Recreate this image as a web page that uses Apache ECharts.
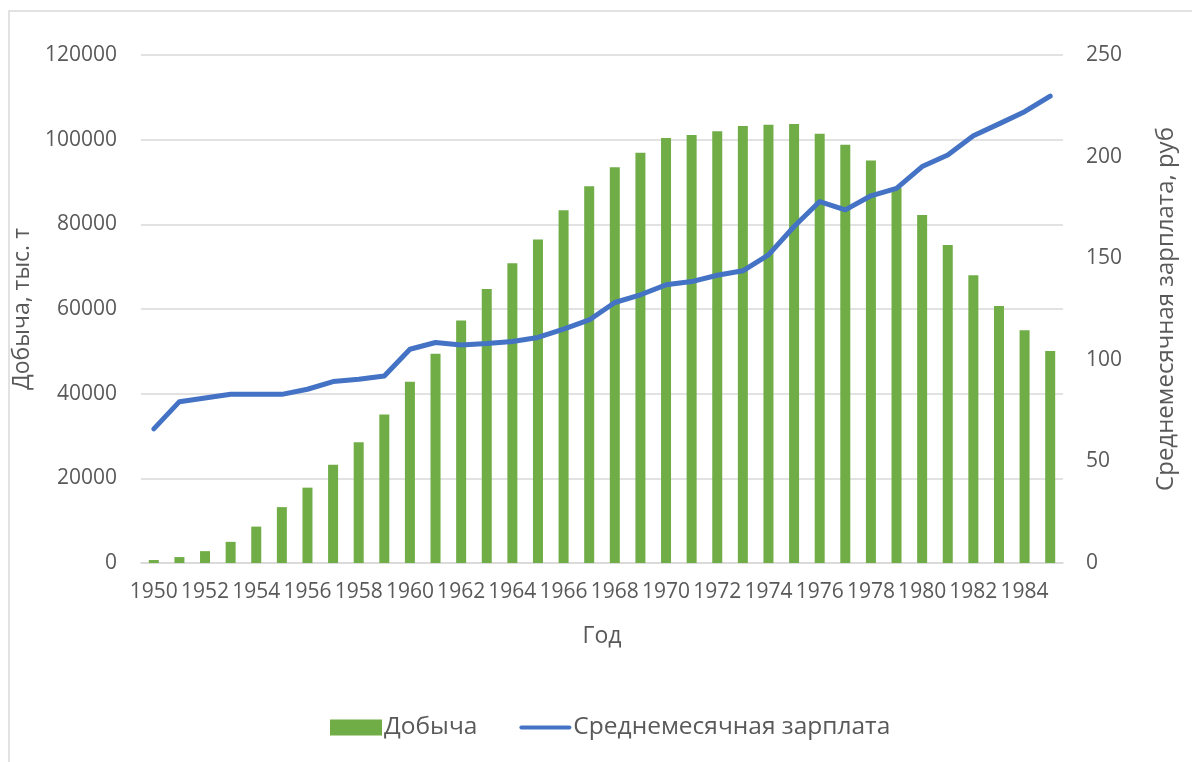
<!DOCTYPE html>
<html>
<head>
<meta charset="utf-8">
<script src="https://cdn.jsdelivr.net/npm/echarts@6/dist/echarts.min.js"></script>
<style>
html,body{margin:0;padding:0;background:#fff;}
#chart{width:1192px;height:762px;}
</style>
</head>
<body>
<div id="chart"></div>
<script>
const years = ['1950','1951','1952','1953','1954','1955','1956','1957','1958','1959',
  '1960','1961','1962','1963','1964','1965','1966','1967','1968','1969',
  '1970','1971','1972','1973','1974','1975','1976','1977','1978','1979',
  '1980','1981','1982','1983','1984','1985'];
const production = [700,1400,2800,5000,8600,13200,17800,23200,28500,35100,
  42800,49400,57300,64700,70800,76400,83300,89000,93500,96900,
  100400,101100,102000,103200,103500,103700,101400,98800,95100,88600,
  82200,75100,68000,60700,55000,50100];
const salary = [66,79.4,81.2,83,83,83,85.5,89.3,90.4,92,
  105.2,108.5,107.3,108,109,111,115.1,119.6,128.2,132,
  136.9,138.5,141.6,143.8,151.6,165.6,177.9,173.8,180.7,184.4,
  195.1,200.8,210.3,216.1,222.1,229.8];
const seriesNames = ['Добыча','Среднемесячная зарплата'];
const axisNames = ['Добыча, тыс. т','Среднемесячная зарплата, руб','Год'];

const FONT = 'Open Sans';
const TXT = '#595959';
const chart = echarts.init(document.getElementById('chart'));
chart.setOption({
  backgroundColor:'#fff',
  animation:false,
  textStyle:{fontFamily:FONT},
  graphic:[{type:'rect',shape:{x:9,y:11,width:1300,height:900},style:{fill:'none',stroke:'#D9D9D9',lineWidth:1.5},silent:true}],
  grid:{left:141,right:129,top:55,bottom:199},
  legend:{
    left:325, top:710,
    itemWidth:52, itemHeight:16, itemGap:42,
    textStyle:{fontFamily:FONT,fontSize:24.5,color:TXT,padding:[0,0,0,-3]},
    data:[{name:seriesNames[0],icon:'rect'},
          {name:seriesNames[1],icon:'path://M4,0 L96,0 A4,4 0 0 1 96,8 L4,8 A4,4 0 0 1 4,0 Z'}]
  },
  xAxis:{
    type:'category', data:years,
    name:axisNames[2], nameLocation:'middle', nameGap:62,
    nameTextStyle:{fontFamily:FONT,fontSize:23,color:TXT},
    axisLine:{lineStyle:{color:'#D9D9D9',width:1.5}},
    axisTick:{show:false},
    axisLabel:{interval:1,fontFamily:FONT,fontSize:21,color:TXT,margin:19}
  },
  yAxis:[{
    type:'value', min:0, max:120000, interval:20000,
    name:axisNames[0], nameLocation:'middle', nameGap:77, nameRotate:90,
    nameTextStyle:{fontFamily:FONT,fontSize:23,color:TXT},
    axisLabel:{fontFamily:FONT,fontSize:21,color:TXT,margin:24,formatter:function(v){return String(v);}},
    splitLine:{lineStyle:{color:'#D9D9D9',width:1.5}},
    axisLine:{show:false}, axisTick:{show:false}
  },{
    type:'value', min:0, max:250, interval:50,
    name:axisNames[1], nameLocation:'middle', nameGap:91, nameRotate:90,
    nameTextStyle:{fontFamily:FONT,fontSize:24,color:TXT},
    axisLabel:{fontFamily:FONT,fontSize:21,color:TXT,margin:23},
    splitLine:{show:false},
    axisLine:{show:false}, axisTick:{show:false}
  }],
  series:[{
    name:seriesNames[0], type:'bar', data:production, yAxisIndex:0,
    barWidth:10, itemStyle:{color:'#70AD47'}
  },{
    name:seriesNames[1], type:'line', data:salary, yAxisIndex:1,
    symbol:'none', lineStyle:{color:'#4472C4',width:5,cap:'round',join:'round'},
    itemStyle:{color:'#4472C4'}
  }]
});
</script>
</body>
</html>
